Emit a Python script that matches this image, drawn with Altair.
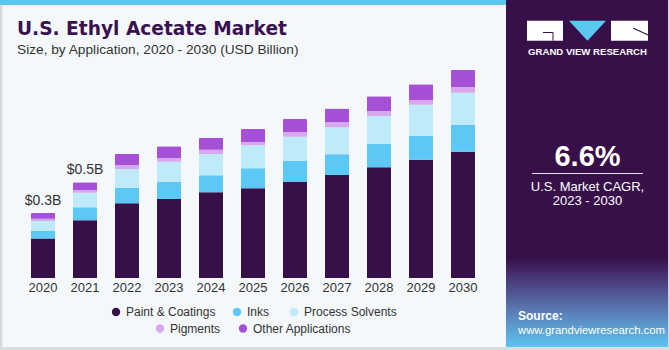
import altair as alt
import pandas as pd

# ---------------- data ----------------
years = ["2020", "2021", "2022", "2023", "2024", "2025", "2026", "2027", "2028", "2029", "2030"]
categories = ["Paint & Coatings", "Inks", "Process Solvents", "Pigments", "Other Applications"]
paint = [0.194, 0.284, 0.368, 0.389, 0.422, 0.442, 0.473, 0.507, 0.545, 0.583, 0.622]
inks = [0.038, 0.064, 0.077, 0.085, 0.084, 0.099, 0.103, 0.103, 0.115, 0.118, 0.133]
solvents = [0.049, 0.072, 0.092, 0.099, 0.105, 0.113, 0.120, 0.133, 0.138, 0.153, 0.158]
pigments = [0.011, 0.013, 0.020, 0.018, 0.021, 0.016, 0.023, 0.025, 0.025, 0.023, 0.028]
other = [0.028, 0.039, 0.054, 0.058, 0.058, 0.064, 0.064, 0.067, 0.072, 0.077, 0.084]
labeled_years = ["2020", "2021"]

# ---------------- styles ----------------
colors = ["#37104A", "#5BC8F5", "#BEEAF9", "#D6A9EC", "#A650D8"]
FONT = "Liberation Sans"
TXT = "#333333"
PANEL = "#37104A"

series = [paint, inks, solvents, pigments, other]
rows = []
for i, yr in enumerate(years):
    for k, cat in enumerate(categories):
        rows.append({"year": yr, "category": cat, "value": series[k][i], "order": k})
df = pd.DataFrame(rows)
totals = df.groupby("year", as_index=False)["value"].sum()
labels = totals[totals["year"].isin(labeled_years)].copy()
labels["label"] = labels["value"].map(lambda v: f"${v:.1f}B")

one = pd.DataFrame({"k": [0]})

x_enc = alt.X(
    "year:N",
    scale=alt.Scale(domain=years, range=[22, 484], paddingInner=18 / 42, paddingOuter=9 / 42),
    axis=None,
)
y_scale = alt.Scale(domain=[0, 1.1], range=[278, 278 - 1.1 * 203], nice=False, zero=True)

bars = alt.Chart(df).mark_bar(cornerRadiusTopLeft=1, cornerRadiusTopRight=1).encode(
    x=x_enc,
    y=alt.Y("value:Q", stack="zero", scale=y_scale, axis=None),
    color=alt.Color("category:N", scale=alt.Scale(domain=categories, range=colors), legend=None),
    order=alt.Order("order:Q", sort="ascending"),
)

total_text = alt.Chart(labels).mark_text(
    font=FONT, fontSize=14, color=TXT, baseline="alphabetic", dy=-8
).encode(x="year:N", y=alt.Y("value:Q", axis=None), text="label:N")

year_text = alt.Chart(totals).mark_text(
    font=FONT, fontSize=13, color=TXT, baseline="alphabetic"
).encode(x="year:N", y=alt.value(292), text="year:N")

base = alt.Chart(one)


def rect(x1, x2, y1, y2, **kw):
    return base.mark_rect(**kw).encode(
        x=alt.value(x1), x2=alt.value(x2), y=alt.value(y1), y2=alt.value(y2)
    )


def text(s, x, y, **kw):
    return base.mark_text(**kw).encode(x=alt.value(x), y=alt.value(y), text=alt.value(s))


frame = rect(1, 669, -5, 348.5, fill=None, stroke="#D3D8DD", strokeWidth=2.5)
top_strip = rect(0, 506, 0, 5, color="#5BC6EE")
panel = rect(506, 668, 0, 347, color=PANEL)
panel_grad = rect(
    506, 668, 258, 347,
    color=alt.Gradient(
        gradient="linear",
        stops=[
            alt.GradientStop(offset=0, color=PANEL),
            alt.GradientStop(offset=0.22, color="#483674"),
            alt.GradientStop(offset=0.6, color="#5A7CB6"),
            alt.GradientStop(offset=1, color="#5CC4EF"),
        ],
        x1=0, x2=0, y1=0, y2=1,
    ),
)

# logo
logo_g = rect(527, 563, 20.7, 40.7, color="white")
logo_g_line1 = base.mark_rule(color=PANEL, strokeWidth=1).encode(
    x=alt.value(543), x2=alt.value(553), y=alt.value(32.5), y2=alt.value(32.5))
logo_g_line2 = base.mark_rule(color=PANEL, strokeWidth=1).encode(
    x=alt.value(553), x2=alt.value(553), y=alt.value(32.5), y2=alt.value(40.7))
logo_tri = base.mark_point(
    shape="M-1,-0.54L1,-0.54L0,0.54Z", size=37 * 37, filled=True, opacity=1,
    color="#5BC8F0", strokeWidth=0,
).encode(x=alt.value(587.5), y=alt.value(30.7))
logo_r = rect(611, 648, 20.7, 40.7, color="white")
logo_r_line = base.mark_rule(color=PANEL, strokeWidth=1.2).encode(
    x=alt.value(633), x2=alt.value(648), y=alt.value(28), y2=alt.value(35))
logo_text = text("GRAND VIEW RESEARCH", 587.5, 55, font=FONT, fontSize=9.6, fontWeight="bold",
                 color="white", align="center", baseline="alphabetic")

cagr = text("6.6%", 587.5, 165.5, font=FONT, fontSize=29, fontWeight="bold",
            color="white", align="center", baseline="alphabetic")
cagr_line = base.mark_rule(color="#E8E0F0", strokeWidth=1).encode(
    x=alt.value(532), x2=alt.value(643), y=alt.value(173.5), y2=alt.value(173.5))
cagr_t1 = text("U.S. Market CAGR,", 587.5, 191, font=FONT, fontSize=13, color="white",
               align="center", baseline="alphabetic")
cagr_t2 = text("2023 - 2030", 587.5, 205, font=FONT, fontSize=13, color="white",
               align="center", baseline="alphabetic")
src1 = text("Source:", 518, 320, font=FONT, fontSize=12, fontWeight="bold", color="white",
            align="left", baseline="alphabetic")
src2 = text("www.grandviewresearch.com", 518, 333.5, font=FONT, fontSize=11.3, color="white",
            align="left", baseline="alphabetic")

title = text("U.S. Ethyl Acetate Market", 17, 35, font="DejaVu Sans", fontSize=18.6,
             fontWeight="bold", color="#3A1150", align="left", baseline="alphabetic")
subtitle = text("Size, by Application, 2020 - 2030 (USD Billion)", 17, 54, font=FONT,
                fontSize=13.7, color=TXT, align="left", baseline="alphabetic")

# legend (manual, centered rows)
legend_pos = [(116, 312), (237, 312), (294, 312), (160, 328.5), (243, 328.5)]
legend_layers = []
for cat, col, (lx, ly) in zip(categories, colors, legend_pos):
    legend_layers.append(
        base.mark_circle(size=70, opacity=1, color=col).encode(x=alt.value(lx), y=alt.value(ly))
    )
    legend_layers.append(
        text(cat, lx + 10, ly, font=FONT, fontSize=12, color=TXT, align="left", baseline="middle")
    )

chart = alt.layer(
    frame, top_strip, panel, panel_grad,
    logo_g, logo_g_line1, logo_g_line2, logo_tri, logo_r, logo_r_line, logo_text,
    cagr, cagr_line, cagr_t1, cagr_t2, src1, src2,
    title, subtitle,
    bars, total_text, year_text,
    *legend_layers,
).properties(
    width=670, height=350, padding=0,
    autosize=alt.AutoSizeParams(type="none"),
    background="#F4F8FB",
).configure_view(stroke=None)

chart.save("out.html", embed_options={"renderer": "svg", "actions": False})
